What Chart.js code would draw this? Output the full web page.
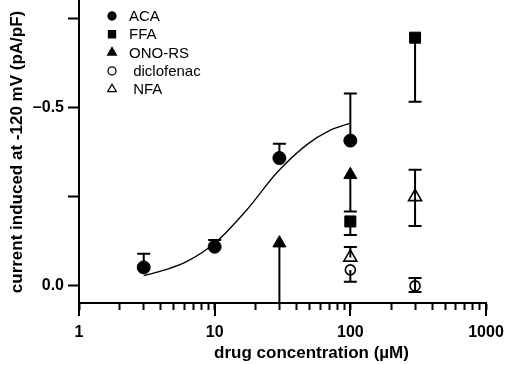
<!DOCTYPE html>
<html>
<head>
<meta charset="utf-8">
<script src="https://cdn.jsdelivr.net/npm/chart.js@4"></script>
<style>
  html, body { margin: 0; padding: 0; background: #fff; }
  #wrap { width: 505px; height: 365px; }
</style>
</head>
<body>
<div id="wrap"><canvas id="doseChart" width="505" height="365"></canvas></div>
<script>
// values (current magnitude, plotted as -pA/pF)
const acaConc = [3, 10, 30, 100];
const acaCurrent = [0.052, 0.11, 0.359, 0.408];
const acaUpper = [0.09, 0.129, 0.399, 0.54];
const acaLower = [null, null, null, null];

const ffaConc = [100, 300];
const ffaCurrent = [0.181, 0.697];
const ffaUpper = [null, null];
const ffaLower = [0.143, 0.517];

const onoConc = [30, 100];
const onoCurrent = [0.12, 0.312];
const onoUpper = [null, null];
const onoLower = [-0.1, 0.209];

const dicloConc = [100, 300];
const dicloCurrent = [0.045, 0.0];
const dicloUpper = [null, 0.022];
const dicloLower = [0.012, -0.017];

const nfaConc = [100, 300];
const nfaCurrent = [0.08, 0.25];
const nfaUpper = [0.109, 0.326];
const nfaLower = [null, 0.168];

// fitted curve for ACA
const fitConc = [3, 4.3, 6.2, 10.3, 17.2, 28.6, 47.6, 70, 100];
const fitCurrent = [0.029, 0.045, 0.068, 0.124, 0.213, 0.317, 0.396, 0.436, 0.457];

const xTickValues = [1, 2, 3, 4, 5, 6, 7, 8, 9, 10, 20, 30, 40, 50, 60, 70, 80, 90, 100, 200, 300, 400, 500, 600, 700, 800, 900, 1000];
const xMajorTicks = [1, 10, 100, 1000];
const yTickValues = [0, 0.25, 0.5, 0.75];
const yTickLabels = { 0: '0.0', 0.5: '\u20130.5' };

const legendLabels = ['ACA', 'FFA', 'ONO-RS', ' diclofenac', ' NFA'];

const pts = (xs, ys) => xs.map((x, i) => ({ x, y: ys[i] }));

function markerSet(label, xs, ys, up, lo, style, radius, filled) {
  return {
    label,
    data: pts(xs, ys),
    upper: up,
    lower: lo,
    filled,
    pointStyle: style,
    pointRadius: radius,
    pointHoverRadius: radius,
    backgroundColor: filled ? '#000' : 'rgba(0,0,0,0)',
    borderColor: '#000',
    borderWidth: filled ? 1 : 1.6,
    showLine: false
  };
}

const errorBars = {
  id: 'errorBars',
  beforeDatasetsDraw(chart) {
    const { ctx, chartArea, scales: { x, y } } = chart;
    ctx.save();
    ctx.beginPath();
    ctx.rect(chartArea.left, chartArea.top, chartArea.right - chartArea.left, chartArea.bottom - chartArea.top);
    ctx.clip();
    ctx.strokeStyle = '#000';
    ctx.lineWidth = 2;
    chart.data.datasets.forEach(ds => {
      if (!ds.upper) return;
      ds.data.forEach((p, i) => {
        const px = x.getPixelForValue(p.x);
        const py = y.getPixelForValue(p.y);
        [ds.upper[i], ds.lower[i]].forEach(end => {
          if (end === null || end === undefined) return;
          const ey = y.getPixelForValue(end);
          ctx.beginPath();
          ctx.moveTo(px, py);
          ctx.lineTo(px, ey);
          ctx.moveTo(px - 6.5, ey);
          ctx.lineTo(px + 6.5, ey);
          ctx.stroke();
        });
      });
    });
    ctx.restore();
  }
};

const extras = {
  id: 'extras',
  afterDraw(chart) {
    const { ctx, chartArea, scales: { x } } = chart;
    ctx.save();
    // longer major ticks on the x axis
    ctx.strokeStyle = '#000';
    ctx.lineWidth = 2;
    xMajorTicks.forEach(v => {
      const px = Math.round(x.getPixelForValue(v));
      ctx.beginPath();
      ctx.moveTo(px, chartArea.bottom);
      ctx.lineTo(px, chartArea.bottom + 13);
      ctx.stroke();
    });

    // x axis title (sits right of centre in the original)
    ctx.fillStyle = '#000';
    ctx.font = 'bold 17px "Liberation Sans", Arial, sans-serif';
    ctx.textAlign = 'center';
    ctx.textBaseline = 'middle';
    ctx.fillText('drug concentration (\u00b5M)', (chartArea.left + chartArea.right) / 2 + 29, 353);

    // legend
    ctx.font = '15px "Liberation Sans", Arial, sans-serif';
    ctx.textAlign = 'left';
    const mx = chartArea.left + 33;
    const tx = chartArea.left + 50;
    chart.data.datasets.slice(0, 5).forEach((ds, i) => {
      const cy = chartArea.top + 15 + i * 18.3;
      ctx.fillStyle = ds.filled ? '#000' : '#fff';
      ctx.strokeStyle = '#000';
      ctx.lineWidth = 1.3;
      Chart.helpers.drawPoint(ctx, {
        pointStyle: ds.pointStyle,
        radius: ds.pointStyle === 'circle' ? 4 : 5,
        borderWidth: 1.3
      }, mx, cy);
      ctx.fillStyle = '#000';
      ctx.fillText(legendLabels[i], tx, cy + 1);
    });
    ctx.restore();
  }
};

new Chart(document.getElementById('doseChart'), {
  type: 'scatter',
  data: {
    datasets: [
      markerSet('ACA', acaConc, acaCurrent, acaUpper, acaLower, 'circle', 6.5, true),
      markerSet('FFA', ffaConc, ffaCurrent, ffaUpper, ffaLower, 'rect', 7.8, true),
      markerSet('ONO-RS', onoConc, onoCurrent, onoUpper, onoLower, 'triangle', 7.5, true),
      markerSet('diclofenac', dicloConc, dicloCurrent, dicloUpper, dicloLower, 'circle', 5, false),
      markerSet('NFA', nfaConc, nfaCurrent, nfaUpper, nfaLower, 'triangle', 7.5, false),
      {
        label: 'fit',
        data: pts(fitConc, fitCurrent),
        showLine: true,
        pointRadius: 0,
        borderColor: '#000',
        borderWidth: 1.3,
        cubicInterpolationMode: 'monotone'
      }
    ]
  },
  options: {
    responsive: false,
    animation: false,
    devicePixelRatio: 1,
    layout: { autoPadding: false, padding: { top: 1, right: 19, left: 0, bottom: 0 } },
    plugins: {
      legend: { display: false },
      tooltip: { enabled: false }
    },
    scales: {
      x: {
        type: 'logarithmic',
        min: 1,
        max: 1000,
        afterBuildTicks: s => { s.ticks = xTickValues.map(v => ({ value: v })); },
        afterFit: s => { s.height = 62; s.paddingLeft = 0; s.paddingRight = 0; },
        border: { display: true, color: '#000', width: 2 },
        grid: { drawOnChartArea: false, drawTicks: true, tickLength: 7, tickWidth: 2, tickColor: '#000' },
        ticks: {
          autoSkip: false,
          maxRotation: 0,
          padding: 13,
          color: '#000',
          font: { family: '"Liberation Sans", Arial, sans-serif', size: 16, weight: 'bold' },
          callback: v => xMajorTicks.includes(v) ? String(v) : ''
        }
      },
      y: {
        min: -0.048,
        max: 0.8,
        afterBuildTicks: s => { s.ticks = yTickValues.map(v => ({ value: v })); },
        afterFit: s => { s.width = 79; s.paddingTop = 0; s.paddingBottom = 0; },
        border: { display: true, color: '#000', width: 2 },
        grid: { drawOnChartArea: false, drawTicks: true, tickLength: 11, tickWidth: 2, tickColor: '#000' },
        ticks: {
          padding: 4,
          color: '#000',
          font: { family: '"Liberation Sans", Arial, sans-serif', size: 16, weight: 'bold' },
          callback: v => yTickLabels[v] ?? ''
        },
        title: {
          display: true,
          text: 'current induced at -120 mV (pA/pF)',
          color: '#000',
          padding: { top: 7, bottom: 0 },
          font: { family: '"Liberation Sans", Arial, sans-serif', size: 17, weight: 'bold' }
        }
      }
    }
  },
  plugins: [errorBars, extras]
});
</script>
</body>
</html>
